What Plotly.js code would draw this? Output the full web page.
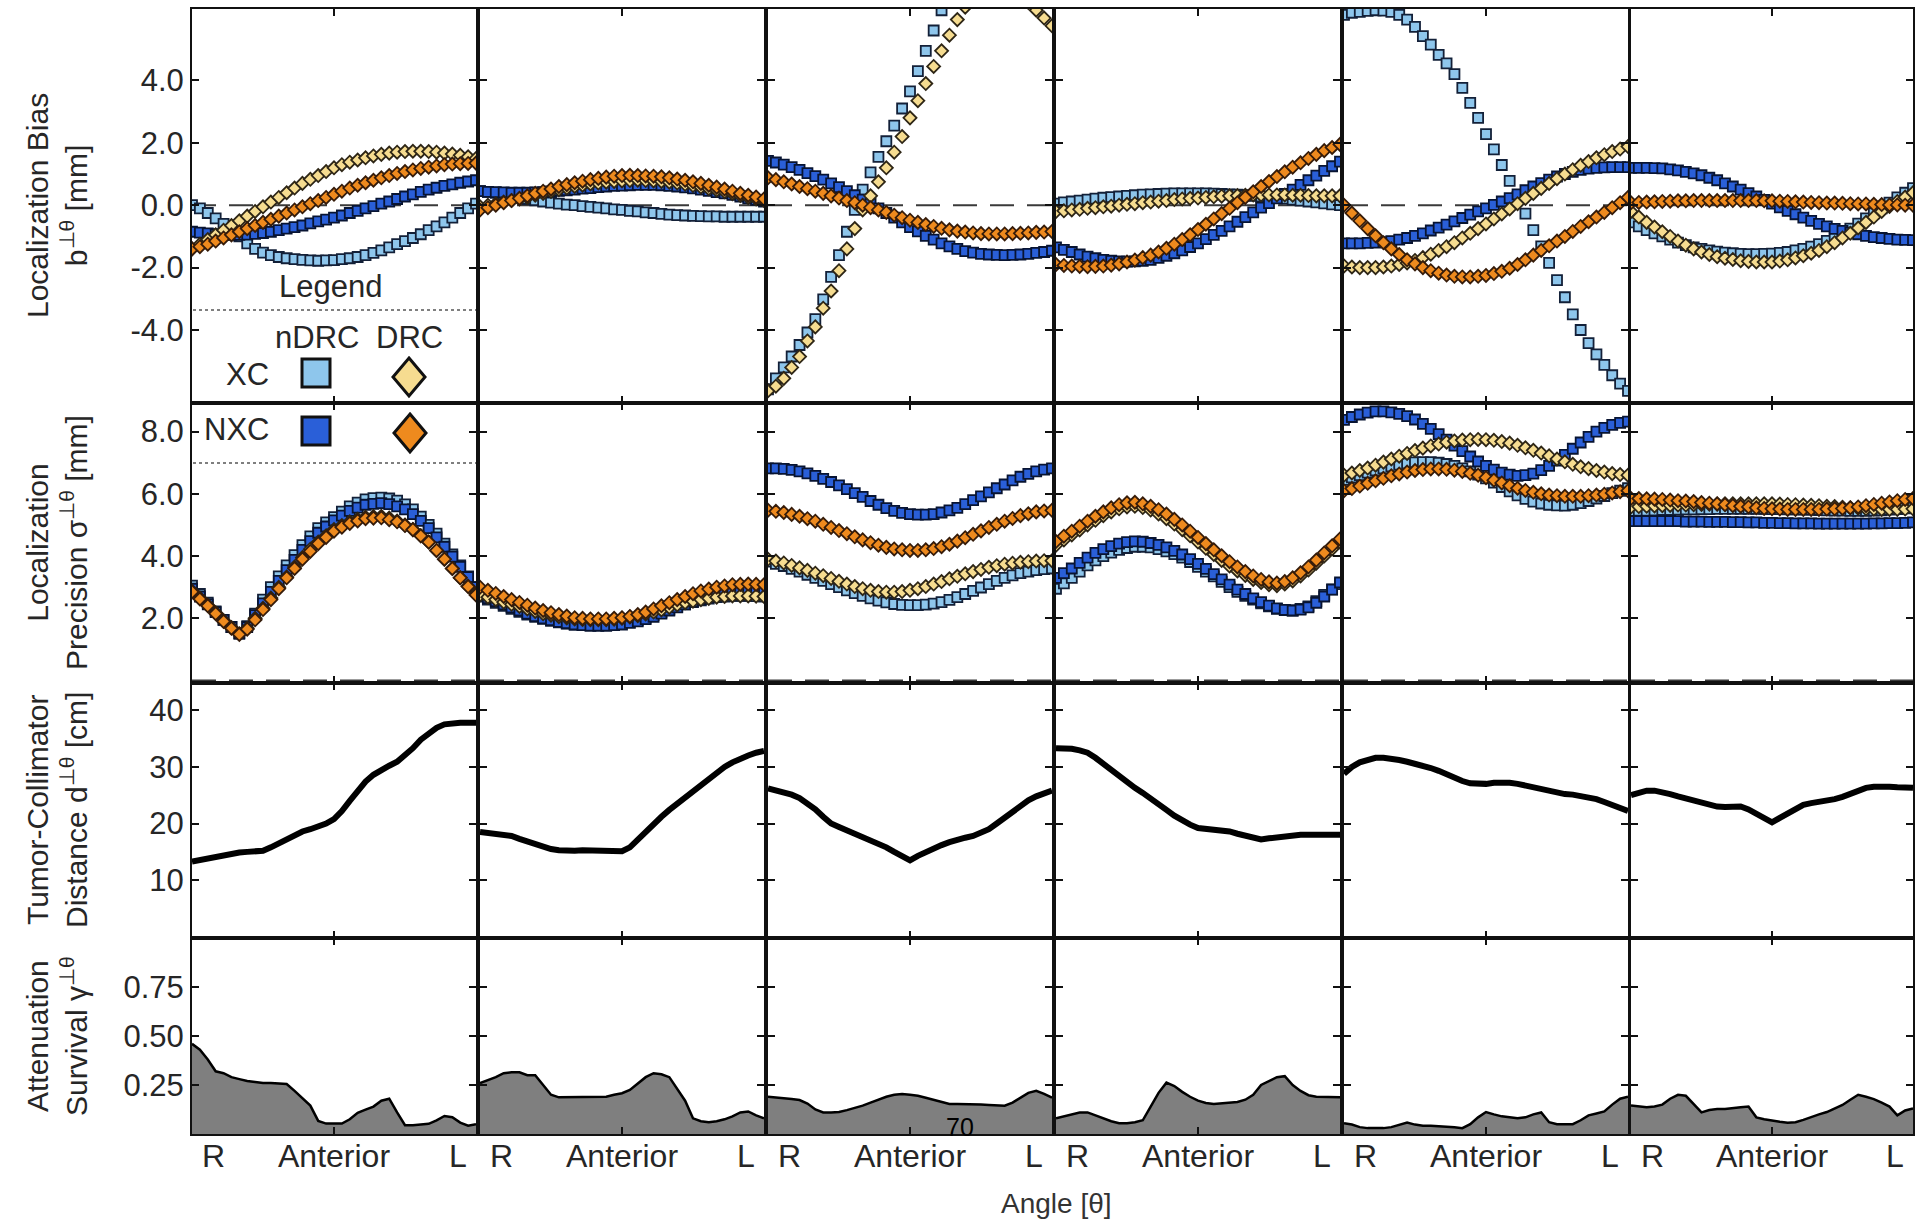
<!DOCTYPE html>
<html><head><meta charset="utf-8">
<script src="https://cdn.plot.ly/plotly-3.0.1.min.js"></script>
<style>html,body{margin:0;padding:0;background:#fff}#chart{width:1915px;height:1224px}</style>
</head><body><div id="chart"></div>
<script>
// ---- data (angle in degrees, R = 0, Anterior = 90, L = 180) ----
const angle = [0,5,10,15,20,25,30,35,40,45,50,55,60,65,70,75,80,85,90,95,100,105,110,115,120,125,130,135,140,145,150,155,160,165,170,175,180];
const panelTickText = ['R','Anterior','L'];

// Localization bias b [mm]
const biasXCnDRC = [
 [0.0,-0.1,-0.25,-0.42,-0.6,-0.8,-1.0,-1.22,-1.4,-1.52,-1.6,-1.66,-1.7,-1.73,-1.75,-1.77,-1.78,-1.77,-1.76,-1.73,-1.7,-1.66,-1.6,-1.53,-1.45,-1.35,-1.25,-1.15,-1.05,-0.93,-0.8,-0.68,-0.55,-0.4,-0.25,-0.1,0.05],
 [0.45,0.43,0.4,0.35,0.3,0.25,0.2,0.16,0.12,0.08,0.05,0.02,0.0,-0.03,-0.05,-0.08,-0.1,-0.13,-0.15,-0.18,-0.2,-0.23,-0.25,-0.28,-0.3,-0.32,-0.33,-0.34,-0.35,-0.36,-0.36,-0.37,-0.37,-0.37,-0.37,-0.37,-0.37],
 [-5.9,-5.55,-5.2,-4.85,-4.48,-4.08,-3.65,-3.02,-2.3,-1.6,-0.85,-0.15,0.5,1.05,1.55,2.05,2.55,3.1,3.65,4.3,4.95,5.6,6.25,6.75,7.1,7.4,7.6,7.7,7.75,7.75,7.7,7.6,7.45,7.25,7.05,6.85,6.6],
 [0.05,0.09,0.12,0.15,0.18,0.21,0.24,0.26,0.28,0.3,0.32,0.34,0.35,0.36,0.37,0.38,0.38,0.38,0.38,0.38,0.37,0.36,0.35,0.34,0.32,0.3,0.28,0.26,0.23,0.21,0.18,0.15,0.12,0.09,0.06,0.03,0.0],
 [6.1,6.17,6.2,6.23,6.25,6.24,6.2,6.1,5.95,5.72,5.42,5.15,4.82,4.55,4.2,3.76,3.28,2.8,2.28,1.79,1.29,0.78,0.27,-0.27,-0.8,-1.32,-1.85,-2.4,-2.95,-3.5,-4.0,-4.42,-4.78,-5.12,-5.45,-5.72,-5.95],
 [-0.55,-0.68,-0.8,-0.9,-1.0,-1.1,-1.2,-1.28,-1.35,-1.4,-1.45,-1.49,-1.52,-1.54,-1.56,-1.57,-1.57,-1.56,-1.55,-1.53,-1.5,-1.45,-1.4,-1.33,-1.25,-1.14,-1.02,-0.89,-0.75,-0.59,-0.42,-0.26,-0.1,0.08,0.25,0.4,0.55]
];
const biasNXCnDRC = [
 [-0.85,-0.88,-0.9,-0.93,-0.95,-0.95,-0.95,-0.94,-0.92,-0.89,-0.85,-0.8,-0.75,-0.7,-0.65,-0.58,-0.52,-0.46,-0.4,-0.33,-0.25,-0.18,-0.1,-0.03,0.05,0.12,0.2,0.28,0.35,0.43,0.5,0.56,0.62,0.67,0.72,0.76,0.8],
 [0.45,0.43,0.42,0.41,0.4,0.4,0.4,0.41,0.42,0.44,0.46,0.48,0.5,0.53,0.55,0.58,0.6,0.62,0.63,0.64,0.65,0.65,0.65,0.64,0.62,0.6,0.57,0.54,0.5,0.46,0.42,0.38,0.33,0.28,0.22,0.17,0.12],
 [1.42,1.37,1.3,1.22,1.13,1.03,0.93,0.82,0.7,0.58,0.45,0.32,0.18,0.04,-0.1,-0.25,-0.4,-0.55,-0.7,-0.84,-0.98,-1.1,-1.22,-1.32,-1.4,-1.47,-1.52,-1.56,-1.58,-1.59,-1.6,-1.59,-1.58,-1.56,-1.53,-1.5,-1.46],
 [-1.35,-1.43,-1.5,-1.58,-1.65,-1.7,-1.75,-1.78,-1.8,-1.81,-1.8,-1.78,-1.75,-1.69,-1.62,-1.54,-1.45,-1.34,-1.22,-1.09,-0.95,-0.82,-0.68,-0.53,-0.38,-0.23,-0.08,0.07,0.22,0.36,0.5,0.65,0.8,0.95,1.1,1.25,1.4],
 [-1.22,-1.22,-1.22,-1.21,-1.2,-1.18,-1.15,-1.1,-1.05,-0.98,-0.9,-0.81,-0.72,-0.62,-0.52,-0.41,-0.3,-0.2,-0.1,0.01,0.12,0.23,0.35,0.48,0.6,0.71,0.82,0.92,1.0,1.07,1.13,1.17,1.2,1.21,1.22,1.22,1.22],
 [1.2,1.2,1.2,1.19,1.18,1.15,1.12,1.07,1.02,0.96,0.88,0.8,0.7,0.6,0.5,0.39,0.28,0.17,0.05,-0.07,-0.18,-0.29,-0.4,-0.5,-0.6,-0.68,-0.76,-0.82,-0.88,-0.93,-0.98,-1.02,-1.05,-1.08,-1.1,-1.11,-1.12]
];
const biasXCDRC = [
 [-1.4,-1.25,-1.1,-0.95,-0.8,-0.65,-0.5,-0.35,-0.2,-0.05,0.1,0.25,0.4,0.55,0.7,0.83,0.95,1.08,1.2,1.3,1.38,1.45,1.52,1.58,1.63,1.67,1.7,1.72,1.73,1.73,1.72,1.7,1.67,1.64,1.6,1.55,1.5],
 [-0.05,0.0,0.05,0.1,0.15,0.2,0.25,0.32,0.38,0.44,0.5,0.55,0.6,0.64,0.68,0.71,0.74,0.76,0.78,0.79,0.8,0.79,0.78,0.76,0.74,0.71,0.67,0.63,0.58,0.53,0.48,0.43,0.37,0.31,0.25,0.2,0.15],
 [-5.95,-5.8,-5.55,-5.2,-4.85,-4.35,-3.9,-3.3,-2.75,-2.1,-1.4,-0.75,-0.15,0.3,0.75,1.2,1.7,2.2,2.8,3.35,3.9,4.45,4.95,5.45,5.95,6.35,6.65,6.85,7.0,7.05,7.05,6.95,6.7,6.5,6.25,6.0,5.75],
 [-0.2,-0.18,-0.15,-0.13,-0.1,-0.08,-0.05,-0.03,0.0,0.03,0.05,0.08,0.1,0.13,0.15,0.18,0.2,0.22,0.23,0.25,0.27,0.29,0.3,0.31,0.32,0.33,0.33,0.33,0.33,0.33,0.32,0.32,0.31,0.3,0.3,0.3,0.3],
 [-1.95,-1.98,-2.0,-2.0,-2.0,-1.98,-1.95,-1.9,-1.85,-1.77,-1.68,-1.57,-1.45,-1.33,-1.2,-1.05,-0.9,-0.75,-0.6,-0.44,-0.28,-0.12,0.05,0.22,0.38,0.54,0.7,0.85,1.0,1.14,1.28,1.4,1.52,1.62,1.72,1.8,1.88],
 [-0.2,-0.38,-0.55,-0.7,-0.85,-1.0,-1.15,-1.28,-1.4,-1.5,-1.58,-1.65,-1.7,-1.74,-1.78,-1.8,-1.82,-1.82,-1.82,-1.79,-1.75,-1.69,-1.62,-1.54,-1.45,-1.33,-1.2,-1.05,-0.9,-0.73,-0.55,-0.38,-0.2,-0.04,0.12,0.26,0.4]
];
const biasNXCDRC = [
 [-1.4,-1.33,-1.25,-1.15,-1.05,-0.95,-0.85,-0.75,-0.65,-0.55,-0.45,-0.35,-0.25,-0.15,-0.05,0.05,0.15,0.25,0.35,0.45,0.55,0.64,0.72,0.8,0.88,0.95,1.02,1.08,1.13,1.18,1.22,1.26,1.3,1.32,1.33,1.34,1.35],
 [-0.15,-0.08,0.0,0.08,0.15,0.22,0.3,0.38,0.45,0.52,0.6,0.66,0.72,0.77,0.82,0.86,0.9,0.93,0.95,0.96,0.95,0.94,0.93,0.91,0.88,0.84,0.8,0.75,0.7,0.64,0.58,0.52,0.45,0.38,0.32,0.26,0.2],
 [0.88,0.82,0.75,0.68,0.6,0.53,0.45,0.38,0.3,0.23,0.15,0.08,0.0,-0.08,-0.15,-0.23,-0.32,-0.4,-0.48,-0.55,-0.62,-0.68,-0.74,-0.79,-0.83,-0.86,-0.89,-0.91,-0.92,-0.92,-0.92,-0.91,-0.9,-0.89,-0.87,-0.86,-0.84],
 [-1.9,-1.93,-1.95,-1.96,-1.97,-1.96,-1.95,-1.92,-1.88,-1.82,-1.76,-1.68,-1.6,-1.5,-1.38,-1.25,-1.1,-0.95,-0.78,-0.61,-0.44,-0.27,-0.1,0.08,0.25,0.43,0.6,0.76,0.92,1.07,1.22,1.36,1.5,1.63,1.75,1.85,1.95],
 [0.0,-0.25,-0.5,-0.75,-0.98,-1.2,-1.4,-1.58,-1.75,-1.88,-2.0,-2.1,-2.18,-2.24,-2.28,-2.3,-2.3,-2.28,-2.25,-2.19,-2.12,-2.02,-1.9,-1.75,-1.6,-1.45,-1.3,-1.15,-1.0,-0.84,-0.68,-0.53,-0.38,-0.23,-0.08,0.08,0.25],
 [0.08,0.09,0.1,0.11,0.12,0.13,0.14,0.14,0.15,0.15,0.15,0.15,0.15,0.15,0.15,0.15,0.15,0.14,0.14,0.13,0.12,0.11,0.1,0.09,0.08,0.07,0.07,0.06,0.05,0.04,0.04,0.03,0.02,0.01,0.01,0.0,0.0]
];

// Localization precision sigma [mm]
const precXCnDRC = [
 [3.05,2.78,2.5,2.22,1.95,1.72,1.5,1.75,2.15,2.6,3.0,3.35,3.7,4.03,4.35,4.63,4.9,5.08,5.25,5.43,5.6,5.72,5.82,5.86,5.88,5.85,5.78,5.66,5.5,5.27,5.0,4.72,4.4,4.05,3.7,3.35,3.0],
 [2.7,2.6,2.5,2.4,2.3,2.21,2.12,2.05,1.98,1.92,1.87,1.83,1.8,1.79,1.78,1.79,1.8,1.82,1.85,1.9,1.95,2.02,2.1,2.19,2.28,2.37,2.45,2.52,2.58,2.63,2.68,2.7,2.72,2.72,2.72,2.71,2.7],
 [3.82,3.75,3.68,3.59,3.5,3.4,3.3,3.2,3.1,3.0,2.9,2.81,2.72,2.64,2.57,2.51,2.46,2.43,2.42,2.42,2.44,2.47,2.52,2.59,2.68,2.78,2.88,2.99,3.1,3.2,3.3,3.38,3.45,3.5,3.55,3.58,3.6],
 [2.95,3.12,3.3,3.5,3.7,3.86,4.0,4.11,4.2,4.26,4.3,4.3,4.28,4.22,4.15,4.06,3.95,3.81,3.65,3.5,3.35,3.17,3.0,2.85,2.72,2.6,2.48,2.38,2.3,2.26,2.25,2.3,2.38,2.55,2.75,2.93,3.1],
 [6.45,6.53,6.6,6.68,6.75,6.82,6.88,6.94,6.98,7.01,7.02,7.02,7.0,6.96,6.9,6.82,6.72,6.62,6.5,6.36,6.22,6.08,5.95,5.84,5.75,5.69,5.65,5.63,5.62,5.65,5.7,5.77,5.85,5.93,6.02,6.1,6.18],
 [5.45,5.46,5.46,5.47,5.48,5.48,5.49,5.5,5.5,5.51,5.51,5.52,5.52,5.52,5.52,5.52,5.52,5.52,5.51,5.51,5.5,5.5,5.49,5.49,5.48,5.47,5.46,5.46,5.45,5.45,5.45,5.46,5.47,5.49,5.51,5.53,5.55]
];
const precNXCnDRC = [
 [2.95,2.7,2.45,2.2,1.95,1.72,1.52,1.72,2.1,2.48,2.85,3.2,3.55,3.88,4.2,4.48,4.75,4.95,5.15,5.3,5.45,5.56,5.65,5.68,5.7,5.67,5.6,5.5,5.35,5.13,4.9,4.6,4.3,3.98,3.65,3.32,3.0],
 [2.75,2.65,2.55,2.45,2.35,2.25,2.15,2.07,2.0,1.94,1.88,1.84,1.8,1.78,1.76,1.76,1.76,1.78,1.8,1.85,1.9,1.97,2.05,2.15,2.25,2.35,2.45,2.54,2.62,2.69,2.75,2.8,2.85,2.88,2.9,2.9,2.9],
 [6.82,6.82,6.8,6.77,6.72,6.66,6.58,6.48,6.38,6.27,6.15,6.02,5.9,5.77,5.65,5.54,5.45,5.39,5.35,5.33,5.33,5.35,5.4,5.47,5.55,5.67,5.8,5.92,6.05,6.18,6.3,6.43,6.55,6.64,6.72,6.78,6.82],
 [3.3,3.45,3.6,3.78,3.95,4.1,4.22,4.32,4.4,4.45,4.47,4.46,4.42,4.36,4.28,4.17,4.05,3.9,3.75,3.59,3.42,3.25,3.08,2.92,2.78,2.64,2.52,2.41,2.32,2.27,2.25,2.28,2.35,2.5,2.7,2.92,3.15],
 [8.38,8.47,8.55,8.61,8.65,8.65,8.62,8.57,8.5,8.39,8.25,8.09,7.92,7.74,7.55,7.37,7.2,7.04,6.9,6.78,6.68,6.62,6.58,6.6,6.65,6.76,6.9,7.07,7.25,7.45,7.65,7.83,8.0,8.12,8.22,8.28,8.32],
 [5.12,5.12,5.12,5.12,5.12,5.12,5.12,5.11,5.11,5.11,5.1,5.1,5.1,5.09,5.09,5.08,5.08,5.07,5.07,5.06,5.06,5.05,5.05,5.05,5.04,5.04,5.04,5.04,5.04,5.04,5.04,5.05,5.05,5.06,5.06,5.07,5.08]
];
const precXCDRC = [
 [2.88,2.65,2.42,2.18,1.93,1.7,1.5,1.68,2.0,2.32,2.65,3.0,3.33,3.65,3.95,4.22,4.45,4.65,4.85,4.98,5.1,5.18,5.25,5.27,5.28,5.22,5.13,5.0,4.85,4.65,4.45,4.18,3.9,3.6,3.3,3.03,2.78],
 [2.75,2.68,2.6,2.52,2.45,2.38,2.3,2.22,2.15,2.1,2.05,2.01,1.98,1.96,1.95,1.95,1.95,1.97,2.0,2.04,2.08,2.14,2.2,2.27,2.35,2.43,2.5,2.55,2.6,2.64,2.68,2.7,2.72,2.72,2.72,2.71,2.7],
 [3.9,3.84,3.78,3.7,3.62,3.54,3.45,3.37,3.28,3.19,3.1,3.02,2.95,2.9,2.86,2.84,2.84,2.86,2.9,2.95,3.02,3.1,3.18,3.27,3.35,3.43,3.5,3.57,3.64,3.69,3.74,3.77,3.8,3.82,3.84,3.85,3.85],
 [4.35,4.52,4.68,4.84,5.0,5.15,5.3,5.42,5.52,5.58,5.6,5.56,5.48,5.35,5.2,5.03,4.85,4.65,4.45,4.25,4.05,3.86,3.68,3.52,3.38,3.25,3.15,3.08,3.05,3.1,3.2,3.36,3.55,3.77,4.0,4.23,4.45],
 [6.6,6.67,6.75,6.83,6.92,7.02,7.12,7.21,7.3,7.39,7.47,7.54,7.6,7.66,7.7,7.73,7.74,7.75,7.74,7.72,7.68,7.63,7.56,7.48,7.4,7.31,7.22,7.12,7.03,6.95,6.87,6.81,6.75,6.7,6.65,6.62,6.6],
 [5.58,5.59,5.6,5.61,5.62,5.63,5.64,5.64,5.65,5.66,5.67,5.67,5.68,5.68,5.68,5.68,5.68,5.68,5.68,5.67,5.66,5.65,5.64,5.63,5.62,5.6,5.59,5.57,5.55,5.54,5.52,5.51,5.5,5.5,5.5,5.51,5.52]
];
const precNXCDRC = [
 [2.85,2.62,2.4,2.15,1.9,1.68,1.48,1.65,1.95,2.28,2.6,2.95,3.3,3.6,3.9,4.15,4.4,4.6,4.8,4.93,5.05,5.13,5.2,5.22,5.23,5.17,5.1,4.98,4.85,4.65,4.45,4.18,3.9,3.6,3.3,3.02,2.75],
 [3.0,2.9,2.8,2.7,2.6,2.51,2.42,2.33,2.25,2.18,2.12,2.07,2.02,2.0,1.98,1.98,1.98,2.0,2.02,2.06,2.12,2.2,2.3,2.4,2.5,2.6,2.7,2.79,2.88,2.94,3.0,3.04,3.08,3.09,3.1,3.09,3.08],
 [5.47,5.44,5.4,5.34,5.28,5.2,5.12,5.02,4.92,4.82,4.72,4.62,4.52,4.43,4.35,4.28,4.23,4.2,4.18,4.18,4.2,4.24,4.3,4.38,4.48,4.59,4.7,4.81,4.92,5.02,5.12,5.21,5.3,5.36,5.42,5.45,5.47],
 [4.47,4.64,4.8,4.96,5.12,5.28,5.42,5.55,5.65,5.71,5.73,5.68,5.6,5.49,5.35,5.18,5.0,4.8,4.6,4.4,4.2,4.01,3.82,3.65,3.5,3.36,3.25,3.17,3.13,3.18,3.3,3.46,3.65,3.87,4.1,4.33,4.55],
 [6.1,6.17,6.25,6.34,6.42,6.5,6.58,6.64,6.7,6.75,6.78,6.8,6.8,6.79,6.76,6.72,6.66,6.6,6.52,6.44,6.35,6.26,6.18,6.11,6.05,6.0,5.96,5.94,5.92,5.92,5.92,5.94,5.96,5.99,6.03,6.07,6.1],
 [5.85,5.85,5.84,5.83,5.82,5.8,5.78,5.77,5.75,5.72,5.7,5.68,5.65,5.62,5.6,5.58,5.55,5.53,5.52,5.51,5.5,5.5,5.5,5.5,5.5,5.51,5.52,5.53,5.55,5.58,5.62,5.66,5.7,5.74,5.78,5.82,5.85]
];

// Tumor-collimator distance d [cm]
const distance = [
 [13.3,13.6,13.8,14.1,14.4,14.7,14.9,15.0,15.0,15.2,15.8,16.5,17.2,17.9,18.6,19.0,19.5,20.0,20.8,22.2,24.0,25.8,27.4,28.6,29.5,30.2,30.9,32.0,33.3,34.8,36.0,36.9,37.5,37.7,37.8,37.8,37.8],
 [18.5,18.3,18.0,17.9,17.8,17.3,16.8,16.3,15.8,15.5,15.3,15.2,15.2,15.3,15.3,15.2,15.2,15.2,15.1,15.8,17.2,18.6,20.0,21.2,22.4,23.5,24.6,25.7,26.8,27.9,29.0,30.0,30.8,31.5,32.0,32.5,32.8],
 [26.2,25.9,25.5,25.1,24.5,23.6,22.5,21.2,20.0,19.4,18.8,18.3,17.8,17.2,16.5,15.8,15.0,14.2,13.5,14.3,15.0,15.6,16.2,16.7,17.2,17.5,17.8,18.3,19.0,20.0,21.0,22.1,23.2,24.1,24.8,25.4,25.8],
 [33.3,33.3,33.2,32.9,32.5,31.6,30.5,29.3,28.2,27.2,26.3,25.4,24.5,23.4,22.4,21.4,20.5,19.8,19.2,19.1,19.0,18.8,18.6,18.2,17.8,17.5,17.2,17.4,17.6,17.8,17.9,18.0,18.0,18.0,18.0,18.0,18.0],
 [28.8,30.0,30.8,31.3,31.6,31.6,31.5,31.2,30.9,30.6,30.2,29.8,29.3,28.7,28.0,27.5,27.1,27.0,27.0,27.2,27.3,27.2,27.0,26.7,26.3,25.9,25.6,25.4,25.2,25.1,24.9,24.6,24.3,23.8,23.2,22.7,22.2],
 [25.0,25.5,25.8,25.8,25.6,25.2,24.8,24.4,24.0,23.6,23.2,23.0,22.9,22.9,23.0,22.5,21.8,21.0,20.2,21.0,21.8,22.6,23.3,23.6,23.8,24.0,24.3,24.7,25.2,25.8,26.3,26.5,26.6,26.5,26.4,26.3,26.3]
];

// Attenuation survival gamma
const attenuation = [
 [0.46,0.43,0.38,0.32,0.31,0.29,0.28,0.27,0.265,0.26,0.26,0.258,0.255,0.22,0.185,0.145,0.067,0.053,0.053,0.053,0.075,0.108,0.124,0.14,0.17,0.18,0.11,0.045,0.045,0.05,0.052,0.07,0.092,0.086,0.058,0.042,0.05],
 [0.26,0.275,0.29,0.31,0.315,0.315,0.3,0.3,0.25,0.2,0.187,0.187,0.187,0.187,0.187,0.187,0.19,0.2,0.208,0.225,0.26,0.29,0.31,0.305,0.29,0.23,0.17,0.08,0.065,0.06,0.065,0.075,0.09,0.11,0.115,0.095,0.08],
 [0.19,0.187,0.183,0.178,0.173,0.155,0.125,0.11,0.11,0.112,0.122,0.133,0.145,0.16,0.177,0.19,0.2,0.204,0.2,0.195,0.185,0.175,0.162,0.153,0.153,0.153,0.152,0.15,0.148,0.146,0.144,0.16,0.183,0.21,0.22,0.205,0.185],
 [0.08,0.09,0.1,0.11,0.11,0.095,0.08,0.065,0.055,0.055,0.06,0.07,0.14,0.21,0.262,0.245,0.215,0.19,0.17,0.158,0.153,0.156,0.16,0.163,0.175,0.2,0.25,0.27,0.29,0.295,0.25,0.22,0.198,0.19,0.188,0.187,0.187],
 [0.055,0.048,0.035,0.03,0.03,0.03,0.035,0.045,0.058,0.048,0.042,0.042,0.04,0.037,0.034,0.03,0.05,0.085,0.112,0.1,0.09,0.085,0.08,0.085,0.1,0.11,0.06,0.05,0.05,0.05,0.07,0.095,0.105,0.115,0.15,0.18,0.19],
 [0.145,0.14,0.136,0.14,0.15,0.18,0.2,0.195,0.15,0.11,0.122,0.127,0.127,0.13,0.136,0.14,0.085,0.075,0.067,0.062,0.058,0.06,0.072,0.088,0.1,0.112,0.13,0.148,0.175,0.2,0.19,0.178,0.16,0.14,0.095,0.12,0.13]
];

const biasTicks = [-4,-2,0,2,4], biasTickText = ['-4.0','-2.0','0.0','2.0','4.0'];
const precTicks = [2,4,6,8], precTickText = ['2.0','4.0','6.0','8.0'];
const distTicks = [10,20,30,40], distTickText = ['10','20','30','40'];
const attTicks = [0.25,0.5,0.75], attTickText = ['0.25','0.50','0.75'];

// ---- font choice: condensed face if the system has one, otherwise regular ----
function hasFont(name) {
  const ctx = document.createElement('canvas').getContext('2d');
  const probe = 'Anterior Localization 0123';
  ctx.font = '40px monospace'; const a = ctx.measureText(probe).width;
  ctx.font = `40px "${name}", monospace`; const b = ctx.measureText(probe).width;
  return Math.abs(a - b) > 1;
}
const NARROW = hasFont('Liberation Sans Narrow');
const FONT = NARROW ? '"Liberation Sans Narrow", "Liberation Sans", Arial, sans-serif' : '"Liberation Sans", Arial, sans-serif';
const FS = NARROW ? 1.17 : 1.0;
const fs = v => Math.round(v * FS);

// ---- layout geometry (pixels) ----
const W = 1915, H = 1224;
const TXT = '#262626';
const cols = [[192,476],[480,764],[768,1052],[1056,1340],[1344,1628],[1631,1913]];
const rows = [[9,403],[403,683],[683,938],[938,1134]];
const rowRange = [[-6.34,6.29],[-0.08,8.92],[-0.2,44.8],[0,1.0]];
const rowTicks = [[biasTicks,biasTickText],[precTicks,precTickText],[distTicks,distTickText],[attTicks,attTickText]];
const px = x => x / W, py = y => 1 - y / H;
const sfx = k => (k === 1 ? '' : String(k));

const styles = {
  XCn:  {symbol:'square',  color:'#8ec6ec', line:'#132038'},
  NXCn: {symbol:'square',  color:'#2a5fd8', line:'#081432'},
  XCd:  {symbol:'diamond', color:'#f6dc90', line:'#2e2616'},
  NXCd: {symbol:'diamond', color:'#ee8a1e', line:'#361c0a'}
};
const markerRows = [
  [[biasXCnDRC,'XCn'],[biasNXCnDRC,'NXCn'],[biasXCDRC,'XCd'],[biasNXCDRC,'NXCd']],
  [[precXCnDRC,'XCn'],[precNXCnDRC,'NXCn'],[precXCDRC,'XCd'],[precNXCDRC,'NXCd']]
];

const traces = [];
const layout = {
  width: W, height: H, margin:{l:0,r:0,t:0,b:0},
  paper_bgcolor:'#fff', plot_bgcolor:'#fff', showlegend:false,
  font:{family:FONT, color:TXT},
  shapes:[], annotations:[]
};

for (let r = 0; r < 4; r++) {
  for (let c = 0; c < 6; c++) {
    const k = r * 6 + c + 1, s = sfx(k);
    layout['xaxis' + s] = {
      domain:[px(cols[c][0]), px(cols[c][1])], range:[0,180], anchor:'y' + s,
      tickvals:[0,90,180], showticklabels:false, ticks:'inside', ticklen:7, tickwidth:2, tickcolor:'#111',
      showline:true, linecolor:'#111', linewidth:2, mirror:'ticks', showgrid:false, zeroline:false, fixedrange:true
    };
    layout['yaxis' + s] = {
      domain:[py(rows[r][1]), py(rows[r][0])], range:rowRange[r], anchor:'x' + s,
      tickvals:rowTicks[r][0], ticktext:rowTicks[r][1], showticklabels:c === 0,
      tickfont:{family:FONT, size:fs(31), color:TXT},
      ticks:'inside', ticklen:7, tickwidth:2, tickcolor:'#111',
      showline:true, linecolor:'#111', linewidth:2, mirror:'ticks', showgrid:false, zeroline:false, fixedrange:true
    };
    if (r < 2) {
      layout.shapes.push({type:'line', xref:'x' + s + ' domain', x0:0, x1:1, yref:'y' + s, y0:0, y1:0,
        line:{color:'#3a3a3a', width:2, dash:'24px,13px'}, layer:'below'});
      markerRows[r].forEach(([arr, key]) => {
        const st = styles[key];
        traces.push({type:'scatter', mode:'markers', x:angle, y:arr[c], xaxis:'x' + s, yaxis:'y' + s,
          marker:{symbol:st.symbol, size:10, color:st.color, line:{color:st.line, width:1.8}}, hoverinfo:'skip'});
      });
    } else if (r === 2) {
      traces.push({type:'scatter', mode:'lines', x:angle, y:distance[c], xaxis:'x' + s, yaxis:'y' + s,
        line:{color:'#000', width:6}, hoverinfo:'skip'});
    } else {
      traces.push({type:'scatter', mode:'lines', x:angle, y:attenuation[c], xaxis:'x' + s, yaxis:'y' + s,
        fill:'tozeroy', fillcolor:'#7f7f7f', line:{color:'#000', width:2.5}, hoverinfo:'skip'});
      // direction labels under each panel
      const a = {xref:'x' + s, yref:'paper', y:py(1156), yanchor:'middle', showarrow:false,
        font:{family:FONT, size:fs(32), color:TXT}};
      layout.annotations.push(Object.assign({}, a, {x:0, xanchor:'left', xshift:8, text:panelTickText[0]}));
      layout.annotations.push(Object.assign({}, a, {x:90, xanchor:'center', text:panelTickText[1]}));
      layout.annotations.push(Object.assign({}, a, {x:180, xanchor:'right', xshift:-7, text:panelTickText[2]}));
    }
  }
}

// y-axis titles (two lines, rotated)
const yTitles = [
  ['Localization Bias<br>b<sup>⊥θ</sup> [mm]', 206],
  ['Localization<br>Precision σ<sup>⊥θ</sup> [mm]', 543],
  ['Tumor-Collimator<br>Distance d<sup>⊥θ</sup> [cm]', 810],
  ['Attenuation<br>Survival γ<sup>⊥θ</sup>', 1036]
];
yTitles.forEach(([t, yc]) => layout.annotations.push({xref:'paper', yref:'paper', x:px(57), y:py(yc),
  xanchor:'center', yanchor:'middle', textangle:-90, showarrow:false, text:t,
  font:{family:FONT, size:fs(30), color:TXT}}));

// common x title + page number
layout.annotations.push({xref:'paper', yref:'paper', x:px(1056), y:py(1203), xanchor:'center', yanchor:'middle',
  showarrow:false, text:'Angle [θ]', font:{family:FONT, size:fs(28), color:'#333'}});
layout.annotations.push({xref:'paper', yref:'paper', x:px(960), y:py(1127), xanchor:'center', yanchor:'middle',
  showarrow:false, text:'70', font:{family:FONT, size:fs(25), color:'#000'}});

// legend block inside first column
const lab = (t, x, y, anchor) => layout.annotations.push({xref:'paper', yref:'paper', x:px(x), y:py(y),
  xanchor:anchor || 'center', yanchor:'middle', showarrow:false, text:t, font:{family:FONT, size:fs(31), color:TXT}});
lab('Legend', 330, 286);
lab('nDRC', 317, 337);
lab('DRC', 409, 337);
lab('XC', 271, 374, 'right');
lab('NXC', 271, 430, 'right');
[310, 463].forEach(y => layout.shapes.push({type:'line', xref:'paper', yref:'paper', x0:px(193), x1:px(476),
  y0:py(y), y1:py(y), line:{color:'#555', width:1.5, dash:'dot'}}));
const sq = (cx, cy, st) => layout.shapes.push({type:'rect', xref:'paper', yref:'paper',
  x0:px(cx - 14), x1:px(cx + 14), y0:py(cy + 14), y1:py(cy - 14), fillcolor:st.color, line:{color:'#111', width:3}});
const dm = (cx, cy, st) => layout.shapes.push({type:'path', xref:'paper', yref:'paper',
  path:`M ${px(cx)} ${py(cy - 19)} L ${px(cx + 16)} ${py(cy)} L ${px(cx)} ${py(cy + 19)} L ${px(cx - 16)} ${py(cy)} Z`,
  fillcolor:st.color, line:{color:'#111', width:3}});
sq(316, 373, styles.XCn);
dm(409, 377, styles.XCd);
sq(316, 431, styles.NXCn);
dm(410, 433, styles.NXCd);

Plotly.newPlot('chart', traces, layout, {staticPlot:true, displayModeBar:false});
</script></body></html>
